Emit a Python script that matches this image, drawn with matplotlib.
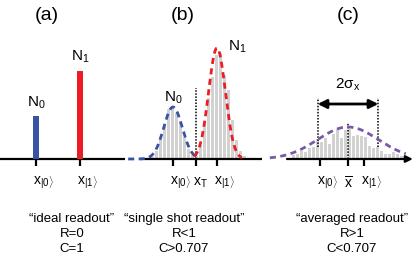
import numpy as np
import matplotlib
matplotlib.use("Agg")
import matplotlib.pyplot as plt

plt.rcParams['font.family'] = ['Liberation Sans', 'DejaVu Sans']
plt.rcParams['mathtext.fontset'] = 'custom'
plt.rcParams['mathtext.rm'] = 'Liberation Sans'
plt.rcParams['mathtext.it'] = 'Liberation Sans:italic'
plt.rcParams['mathtext.sf'] = 'Liberation Sans'

# ---------------- data ----------------
# (a) ideal readout: bar heights at the two states
ideal_states = [0.0, 1.0]
ideal_counts = [43, 88]

# (b) single shot readout histogram
b_bin_start = -0.477
b_bin_width = 0.0909
b_counts = [2, 8, 20, 35, 50, 52, 46, 38, 22, 10, 4, 3,
            14, 36, 61, 82, 104, 106, 84, 69, 39, 19, 8, 3]
b_fit0 = dict(amp=52, mu=0.0, sigma=0.21)
b_fit1 = dict(amp=111, mu=1.0, sigma=0.19)
b_threshold = 0.523

# (c) averaged readout histogram
c_bin_start = -0.682
c_bin_width = 0.0909
c_counts = [1, 4, 5, 8, 7, 11, 12, 20, 17, 21, 15, 25, 30, 21, 29,
            30, 23, 24, 23, 22, 13, 11, 12, 8, 5, 5, 7, 5, 3, 1]
c_fit = dict(amp=32, mu=0.636, sigma=0.69)

titles = ['(a)', '(b)', '(c)']
captions = [['\u201cideal readout\u201d', 'R=0', 'C=1'],
            ['\u201csingle shot readout\u201d', 'R<1', 'C>0.707'],
            ['\u201caveraged readout\u201d', 'R>1', 'C<0.707']]

BLUE = '#3953A4'
RED = '#ED1C24'
PURPLE = '#7B58A8'
GRAY = '#D2D2D2'

W, H = 415, 263
S = 44.0  # pixels per unit
fig = plt.figure(figsize=(W / 100, H / 100), dpi=100)


def make_ax(pl, pr, px0):
    ax = fig.add_axes([pl / W, (H - 169) / H, (pr - pl) / W, (169 - 30) / H])
    ax.set_xlim((pl - px0) / S, (pr - px0) / S)
    ax.set_ylim(-10, 129)
    ax.axis('off')
    return ax


def gauss(x, amp, mu, sigma):
    return amp * np.exp(-(x - mu) ** 2 / (2 * sigma ** 2))


def tick(ax, x, label, centered=False):
    ax.plot([x, x], [0, -7], color='black', lw=1.6, clip_on=False,
            solid_capstyle='butt')
    if centered:
        ax.text(x, -24, label, ha='center', va='center', fontsize=10)
    else:
        ax.text(x - 0.065, -24, label, ha='left', va='center', fontsize=10)


lab0 = r'x$_{|0\rangle}$'
lab1 = r'x$_{|1\rangle}$'

# ---------------- (a) ----------------
axa = make_ax(0, 128, 36)
axa.plot([-0.818, 2.02], [0, 0], color='black', lw=1.6, solid_capstyle='butt')
axa.bar(ideal_states, ideal_counts, width=0.12, color=[BLUE, RED], zorder=3)
axa.text(ideal_states[0], ideal_counts[0] + 13, 'N$_0$', ha='center',
         va='center', fontsize=11)
axa.text(ideal_states[1], ideal_counts[1] + 14, 'N$_1$', ha='center',
         va='center', fontsize=11)
tick(axa, ideal_states[0], lab0)
tick(axa, ideal_states[1], lab1)

# ---------------- (b) ----------------
axb = make_ax(125, 270, 173)
xb = b_bin_start + b_bin_width * np.arange(len(b_counts))
axb.bar(xb, b_counts, width=b_bin_width * 0.75, color=GRAY, zorder=1)
axb.plot([-0.75, 2.02], [0, 0], color='black', lw=1.6, zorder=2,
         solid_capstyle='butt')
x0 = np.linspace(-1.02, 0.52, 200)
axb.plot(x0, gauss(x0, **b_fit0), color=BLUE, lw=2, ls=(0, (2.2, 1.6)),
         zorder=4, clip_on=False)
x1 = np.linspace(0.48, 1.57, 200)
axb.plot(x1, gauss(x1, **b_fit1), color=RED, lw=2, ls=(0, (2.2, 1.6)),
         zorder=4, clip_on=False)
axb.plot([b_threshold, b_threshold], [0, 71], color='black', lw=1.1,
         ls=(0, (1, 1)), zorder=3)
axb.text(b_fit0['mu'], 61, 'N$_0$', ha='center', va='center', fontsize=11)
axb.text(1.45, 112, 'N$_1$', ha='center', va='center', fontsize=11)
tick(axb, 0.0, lab0)
tick(axb, b_threshold, r'x$_\mathrm{T}$')
tick(axb, 1.0, lab1)

# ---------------- (c) ----------------
axc = make_ax(265, 415, 320)
xc = c_bin_start + c_bin_width * np.arange(len(c_counts))
axc.bar(xc, c_counts, width=c_bin_width * 0.75, color=GRAY, zorder=1)
axc.annotate('', xy=(2.11, 0), xytext=(-0.75, 0),
             arrowprops=dict(arrowstyle='-|>', lw=1.6, color='black',
                             mutation_scale=10, shrinkA=0, shrinkB=0),
             zorder=2)
xg = np.linspace(-1.14, 1.95, 300)
axc.plot(xg, gauss(xg, **c_fit), color=PURPLE, lw=2, ls=(0, (2.2, 1.6)),
         zorder=4, clip_on=False)
mu, sg = c_fit['mu'], c_fit['sigma']
for xv in (mu - sg, mu + sg):
    axc.plot([xv, xv], [12, 61], color='black', lw=1.1, ls=(0, (1, 1)), zorder=3)
axc.plot([mu, mu], [0, 36], color='black', lw=1.1, ls=(0, (1, 1)), zorder=3)
axc.annotate('', xy=(mu - sg, 55), xytext=(mu + sg, 55),
             arrowprops=dict(arrowstyle='<|-|>', lw=2, color='black',
                             mutation_scale=13, shrinkA=0, shrinkB=0))
axc.text(mu, 74, '2\u03c3$_\\mathrm{x}$', ha='center', va='center', fontsize=11)
tick(axc, 0.0, lab0)
tick(axc, mu, r'$\overline{\mathrm{x}}$', centered=True)
tick(axc, 1.0, lab1)

# ---------------- titles and captions ----------------
for px, t in zip([47, 183, 348], titles):
    fig.text(px / W, 1 - 15 / H, t, ha='center', va='center', fontsize=14)
for px, lines in zip([72, 184, 352], captions):
    for i, line in enumerate(lines):
        fig.text(px / W, 1 - (219 + 15 * i) / H, line, ha='center',
                 va='center', fontsize=9.5)

fig.savefig('out.png', dpi=100)
